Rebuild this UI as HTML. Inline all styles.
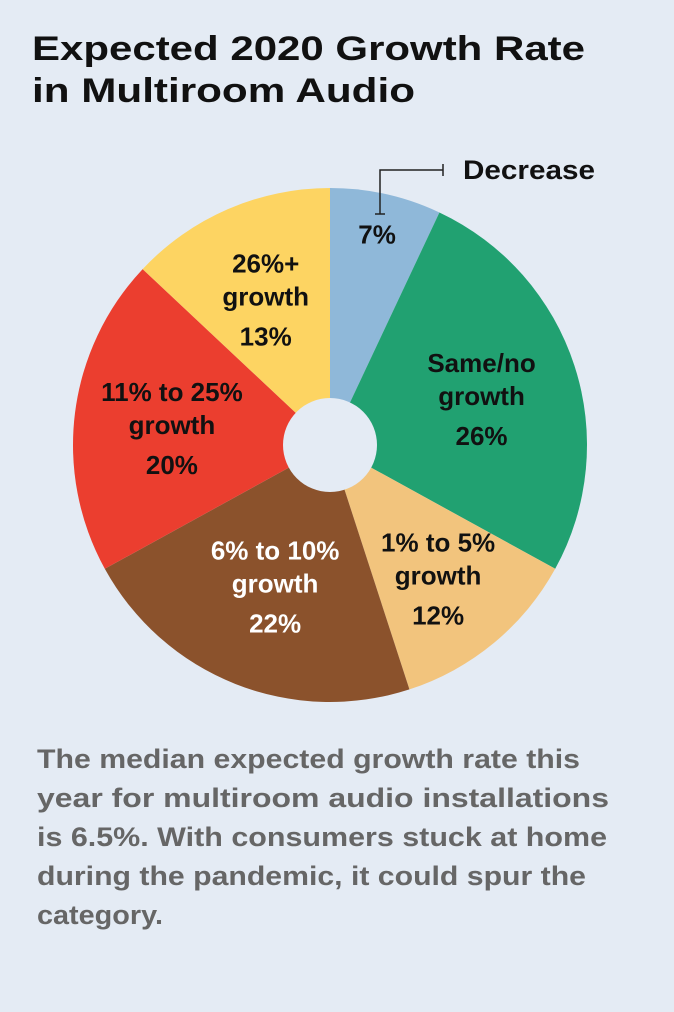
<!DOCTYPE html>
<html><head><meta charset="utf-8"><style>
html,body{margin:0;padding:0;background:#e4ebf4;}
svg{display:block;font-family:"Liberation Sans",sans-serif;}
</style></head><body>
<svg id="chart" width="674" height="1012" viewBox="0 0 674 1012">
<rect width="674" height="1012" fill="#e4ebf4"/>
<g font-weight="bold" font-size="34" fill="#111">
<text x="32" y="60" textLength="553" lengthAdjust="spacingAndGlyphs">Expected 2020 Growth Rate</text>
<text x="32" y="102" textLength="383" lengthAdjust="spacingAndGlyphs">in Multiroom Audio</text>
</g>
<g id="slices"></g>
<circle cx="330" cy="445" r="47" fill="#e4ebf4"/>
<g id="labels" font-weight="bold" font-size="26" text-anchor="middle"></g>
<g stroke="#222" stroke-width="1.5" fill="none">
<path d="M380 214 V170 H443 M443 164 V176 M375 214 H385"/>
</g>
<text x="463" y="179" font-size="27" font-weight="bold" fill="#111" textLength="132" lengthAdjust="spacingAndGlyphs">Decrease</text>
<g font-weight="bold" font-size="27" fill="#666">
<text x="37" y="768" textLength="543" lengthAdjust="spacingAndGlyphs">The median expected growth rate this</text>
<text x="37" y="807" textLength="572" lengthAdjust="spacingAndGlyphs">year for multiroom audio installations</text>
<text x="37" y="846" textLength="570" lengthAdjust="spacingAndGlyphs">is 6.5%. With consumers stuck at home</text>
<text x="37" y="885" textLength="549" lengthAdjust="spacingAndGlyphs">during the pandemic, it could spur the</text>
<text x="37" y="924" textLength="126" lengthAdjust="spacingAndGlyphs">category.</text>
</g>
</svg>
<script>
const categories = ["Decrease","Same/no growth","1% to 5% growth","6% to 10% growth","11% to 25% growth","26%+ growth"];
const values = [7,26,12,22,20,13];
const valueLabels = ["7%","26%","12%","22%","20%","13%"];
const labelLines = [[],["Same/no","growth"],["1% to 5%","growth"],["6% to 10%","growth"],["11% to 25%","growth"],["26%+","growth"]];
const colors = ["#8fb8d9","#21a171","#f2c47d","#8b522c","#eb3e2f","#fdd462"];
const textColors = ["#111","#111","#111","#fff","#111","#111"];
const labelRadius = [0.84,0.62,0.66,0.58,0.62,0.63];

const cx=330, cy=445, R=257;
const ns="http://www.w3.org/2000/svg";
const total=values.reduce((a,b)=>a+b,0);
function pt(a,r){return [cx+r*Math.sin(a), cy-r*Math.cos(a)];}
const sg=document.getElementById('slices'), lg=document.getElementById('labels');
let acc=0;
values.forEach((v,i)=>{
  const a0=acc/total*2*Math.PI; acc+=v; const a1=acc/total*2*Math.PI;
  const p0=pt(a0,R), p1=pt(a1,R);
  const p=document.createElementNS(ns,'path');
  p.setAttribute('d',`M${cx} ${cy} L${p0[0]} ${p0[1]} A${R} ${R} 0 ${a1-a0>Math.PI?1:0} 1 ${p1[0]} ${p1[1]} Z`);
  p.setAttribute('fill',colors[i]);
  
  
  sg.appendChild(p);
  const am=(a0+a1)/2, lp=pt(am,R*labelRadius[i]);
  const lines=labelLines[i].concat([valueLabels[i]]);
  const n=lines.length;
  lines.forEach((t,j)=>{
    const tx=document.createElementNS(ns,'text');
    tx.setAttribute('x',lp[0]);
    const off=(j-(n-1)/2)*(j===n-1&&n>1?36:33)+(j===n-1&&n>1?4:0);
    tx.setAttribute('y',lp[1]+off+9);
    tx.setAttribute('fill',textColors[i]);
    tx.textContent=t;
    
    
    lg.appendChild(tx);
  });
});
</script>
</body></html>
